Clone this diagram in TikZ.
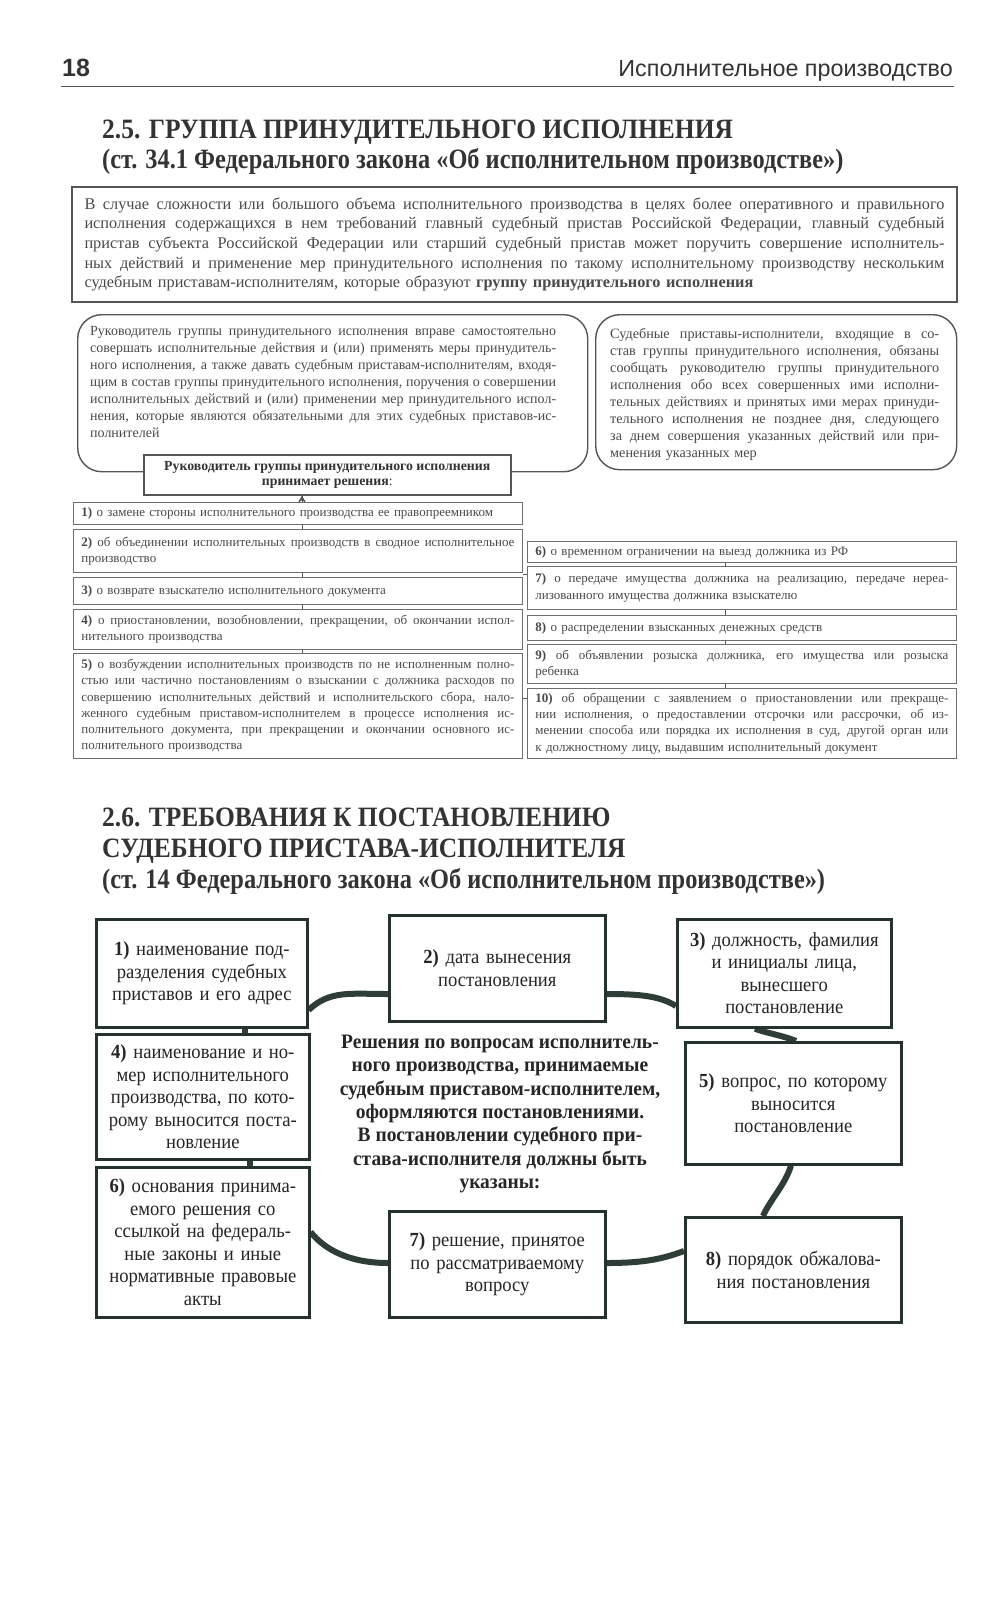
\documentclass[tikz,border=0pt]{standalone}
\usepackage{fontspec}
\setmainfont{Liberation Serif}
\newfontfamily\condfont[FakeStretch=0.93]{Liberation Serif}
\newfontfamily\condbfont[FakeStretch=0.95]{Liberation Serif}
\newfontfamily\headcapsfont[FakeStretch=0.91]{Liberation Serif}
\newfontfamily\headfont[FakeStretch=0.87]{Liberation Serif}
\newfontfamily\hsansfont{Liberation Sans}
\usetikzlibrary{backgrounds,arrows.meta}
\definecolor{ink}{HTML}{333333}
\definecolor{gtext}{HTML}{4A4A4A}
\definecolor{gline}{HTML}{555555}
\definecolor{dk}{HTML}{26332C}
\definecolor{ringc}{HTML}{2E3D35}
\newcommand\jl[1]{\makebox[\hsize][s]{\spaceskip=0pt\xspaceskip=0pt\relax #1}}
\tikzset{
  titletext/.style={inner sep=0pt, anchor=base west, text=ink, font=\headfont\bfseries\fontsize{28}{30}\selectfont},
  titlecaps/.style={titletext, font=\headcapsfont\bfseries\fontsize{28}{30}\selectfont},
  topbox/.style={draw=gline, line width=2pt, fill=white, anchor=north west, inner xsep=12.5pt, inner ysep=0pt,
    minimum width=885pt, minimum height=115pt, text width=860pt, align=left, text=gtext,
    font=\fontsize{16.3}{19.6}\selectfont},
  roundbox/.style={draw=gline, line width=1.4pt, rounded corners=24pt, anchor=north west, inner sep=0pt},
  roundtext/.style={anchor=north west, inner sep=0pt, align=left, text=gtext},
  decide/.style={draw=gline, line width=1.6pt, fill=white, anchor=north west, inner sep=0pt,
    minimum width=367pt, minimum height=40pt, align=center, text=ink, font=\bfseries\fontsize{13.8}{15.5}\selectfont},
  lst/.style={draw=gline!85, line width=0.9pt, fill=white, anchor=north west, inner xsep=8pt, inner ysep=0pt,
    align=left, text=gtext, font=\fontsize{13}{16.3}\selectfont},
  lleft/.style={lst, minimum width=449pt, text width=433pt},
  lright/.style={lst, minimum width=429pt, text width=413pt},
  conn/.style={draw=gline, line width=0.9pt},
  bb/.style={draw=dk, line width=2.6pt, fill=white, anchor=north west, inner sep=0pt, align=center,
    text=black!85, font=\condfont\fontsize{20}{22.5}\selectfont},
  ringline/.style={draw=ringc, line width=6pt},
}
\begin{document}
\begin{tikzpicture}[x=1pt,y=-1pt]
\begin{pgfonlayer}{background}
\fill[white] (0,0) rectangle (1000,1600);
\end{pgfonlayer}
\useasboundingbox (0,0) rectangle (1000,1600);

% header
\node[anchor=base west, inner sep=0pt, text=ink, font=\hsansfont\bfseries\fontsize{25}{28}\selectfont] (pnum) at (62,77) {18};
\node[anchor=base east, inner sep=0pt, text=ink, font=\hsansfont\fontsize{23.3}{26}\selectfont] (rhead) at (953,77) {Исполнительное производство};
\draw[gline, line width=0.8pt] (61,86) coordinate (hla) -- (954,86) coordinate (hlb);

% section 2.5 title
\node[titlecaps] (t1) at (102,139) {2.5. ГРУППА ПРИНУДИТЕЛЬНОГО ИСПОЛНЕНИЯ};
\node[titletext] (t2) at (102,168) {(ст. 34.1 Федерального закона «Об исполнительном производстве»)};

% intro box
\node[topbox] (intro) at (71,186) {%
\jl{В случае сложности или большого объема исполнительного производства в целях более оперативного и правильного}\\
\jl{исполнения содержащихся в нем требований главный судебный пристав Российской Федерации, главный судебный}\\
\jl{пристав субъекта Российской Федерации или старший судебный пристав может поручить совершение исполнитель-}\\
\jl{ных действий и применение мер принудительного исполнения по такому исполнительному производству нескольким}\\
судебным приставам-исполнителям, которые образуют \textbf{группу принудительного исполнения}};

% rounded boxes
\node[roundbox, minimum width=510pt, minimum height=157pt] (lbox) at (77,314) {};
\node[roundtext, text width=466pt, font=\fontsize{14}{17}\selectfont] (ltext) at (90,326) {%
\jl{Руководитель группы принудительного исполнения вправе самостоятельно}\\
\jl{совершать исполнительные действия и (или) применять меры принудитель-}\\
\jl{ного исполнения, а также давать судебным приставам-исполнителям, входя-}\\
\jl{щим в состав группы принудительного исполнения, поручения о совершении}\\
\jl{исполнительных действий и (или) применении мер принудительного испол-}\\
\jl{нения, которые являются обязательными для этих судебных приставов-ис-}\\
полнителей};
\node[roundbox, minimum width=361pt, minimum height=155pt] (rbox) at (595,314) {};
\node[roundtext, text width=329pt, font=\fontsize{14.2}{17}\selectfont] (rtext) at (610,328) {%
\jl{Судебные приставы-исполнители, входящие в со-}\\
\jl{став группы принудительного исполнения, обязаны}\\
\jl{сообщать руководителю группы принудительного}\\
\jl{исполнения обо всех совершенных ими исполни-}\\
\jl{тельных действиях и принятых ими мерах принуди-}\\
\jl{тельного исполнения не позднее дня, следующего}\\
\jl{за днем совершения указанных действий или при-}\\
менения указанных мер};

\node[decide] (dec) at (143,454) {Руководитель группы принудительного исполнения\\принимает решения\textmd{:}};

% left list
\node[lleft, minimum height=22pt] (l1) at (73,502) {\textbf{1)} о замене стороны исполнительного производства ее правопреемником};
\node[lleft, minimum height=43pt] (l2) at (73,529) {\jl{\textbf{2)} об объединении исполнительных производств в сводное исполнительное}\\производство};
\node[lleft, minimum height=27pt] (l3) at (73,577) {\textbf{3)} о возврате взыскателю исполнительного документа};
\node[lleft, minimum height=40pt] (l4) at (73,609) {\jl{\textbf{4)} о приостановлении, возобновлении, прекращении, об окончании испол-}\\нительного производства};
\node[lleft, minimum height=105pt] (l5) at (73,653) {%
\jl{\textbf{5)} о возбуждении исполнительных производств по не исполненным полно-}\\
\jl{стью или частично постановлениям о взыскании с должника расходов по}\\
\jl{совершению исполнительных действий и исполнительского сбора, нало-}\\
\jl{женного судебным приставом-исполнителем в процессе исполнения ис-}\\
\jl{полнительного документа, при прекращении и окончании основного ис-}\\
полнительного производства};

% right list
\node[lright, minimum height=21pt] (r6) at (527,541) {\textbf{6)} о временном ограничении на выезд должника из РФ};
\node[lright, minimum height=43pt] (r7) at (527,566) {\jl{\textbf{7)} о передаче имущества должника на реализацию, передаче нереа-}\\лизованного имущества должника взыскателю};
\node[lright, minimum height=25pt] (r8) at (527,615) {\textbf{8)} о распределении взысканных денежных средств};
\node[lright, minimum height=39pt] (r9) at (527,644) {\jl{\textbf{9)} об объявлении розыска должника, его имущества или розыска}\\ребенка};
\node[lright, minimum height=70pt] (r10) at (527,688) {%
\jl{\textbf{10)} об обращении с заявлением о приостановлении или прекраще-}\\
\jl{нии исполнения, о предоставлении отсрочки или рассрочки, об из-}\\
\jl{менении способа или порядка их исполнения в суд, другой орган или}\\
к должностному лицу, выдавшим исполнительный документ};

\begin{pgfonlayer}{background}
\draw[conn] (dec.south -| 302,0) -- (l5.north -| 302,0);
\draw[conn] (r6.south -| 725,0) -- (r10.north -| 725,0);
\draw[conn] (l2.east |- 0,574) -- (r7.west |- 0,574);
\draw[conn] (l5.east |- 0,698) -- (r10.west |- 0,698);
\end{pgfonlayer}
\draw[conn, -{Stealth[length=7pt,width=8pt]}] (l1.north -| 302,0) -- (dec.south -| 302,0);

% section 2.6 title
\node[titlecaps] (t3) at (102,826) {2.6. ТРЕБОВАНИЯ К ПОСТАНОВЛЕНИЮ};
\node[titlecaps] (t4) at (102,857) {СУДЕБНОГО ПРИСТАВА-ИСПОЛНИТЕЛЯ};
\node[titletext] (t5) at (102,888) {(ст. 14 Федерального закона «Об исполнительном производстве»)};

% bottom diagram
\node[bb, minimum width=211pt, minimum height=108pt, text width=205pt] (b1) at (95,918) {\textbf{1)} наименование под-\\разделения судебных\\приставов и его адрес};
\node[bb, minimum width=216pt, minimum height=106pt, text width=210pt] (b2) at (388,914) {\textbf{2)} дата вынесения\\постановления};
\node[bb, minimum width=214pt, minimum height=108pt, text width=208pt] (b3) at (676,918) {\textbf{3)} должность, фамилия\\и инициалы лица,\\вынесшего\\постановление};
\node[bb, minimum width=213pt, minimum height=125pt, text width=207pt] (b4) at (95,1033) {\textbf{4)} наименование и но-\\мер исполнительного\\производства, по кото-\\рому выносится поста-\\новление};
\node[bb, minimum width=216pt, minimum height=122pt, text width=210pt] (b5) at (684,1041) {\textbf{5)} вопрос, по которому\\выносится\\постановление};
\node[bb, minimum width=213pt, minimum height=150pt, text width=207pt] (b6) at (95,1166) {\textbf{6)} основания принима-\\емого решения со\\ссылкой на федераль-\\ные законы и иные\\нормативные правовые\\акты};
\node[bb, minimum width=216pt, minimum height=106pt, text width=210pt] (b7) at (388,1210) {\textbf{7)} решение, принятое\\по рассматриваемому\\вопросу};
\node[bb, minimum width=216pt, minimum height=105pt, text width=210pt] (b8) at (684,1216) {\textbf{8)} порядок обжалова-\\ния постановления};

\node[anchor=north, inner sep=0pt, align=center, text=black!85, font=\condbfont\bfseries\fontsize{20.5}{23.3}\selectfont] (ctext) at (500,1035) {Решения по вопросам исполнитель-\\ного производства, принимаемые\\судебным приставом-исполнителем,\\оформляются постановлениями.\\В постановлении судебного при-\\става-исполнителя должны быть\\указаны:};

\begin{pgfonlayer}{background}
\draw[ringline] (b1.east |- 0,1010) .. controls (330,990) and (350,994) .. (b2.west |- 0,994);
\draw[ringline] (b2.east |- 0,994) .. controls (640,994) and (660,996) .. (b3.west |- 0,1006);
\draw[ringline] (b3.south -| 755,0) .. controls (762,1032) and (785,1036) .. (b5.north -| 796,0);
\draw[ringline] (b5.south -| 791,0) .. controls (785,1185) and (770,1200) .. (b8.north -| 763,0);
\draw[ringline] (b8.west |- 0,1251) .. controls (660,1260) and (640,1263) .. (b7.east |- 0,1263);
\draw[ringline] (b7.west |- 0,1263) .. controls (350,1263) and (325,1250) .. (b6.east |- 0,1232);
\draw[ringline] (b1.south -| 245,0) -- (b4.north -| 245,0);
\draw[ringline] (b4.south -| 250,0) -- (b6.north -| 250,0);
\end{pgfonlayer}
\end{tikzpicture}
\end{document}
